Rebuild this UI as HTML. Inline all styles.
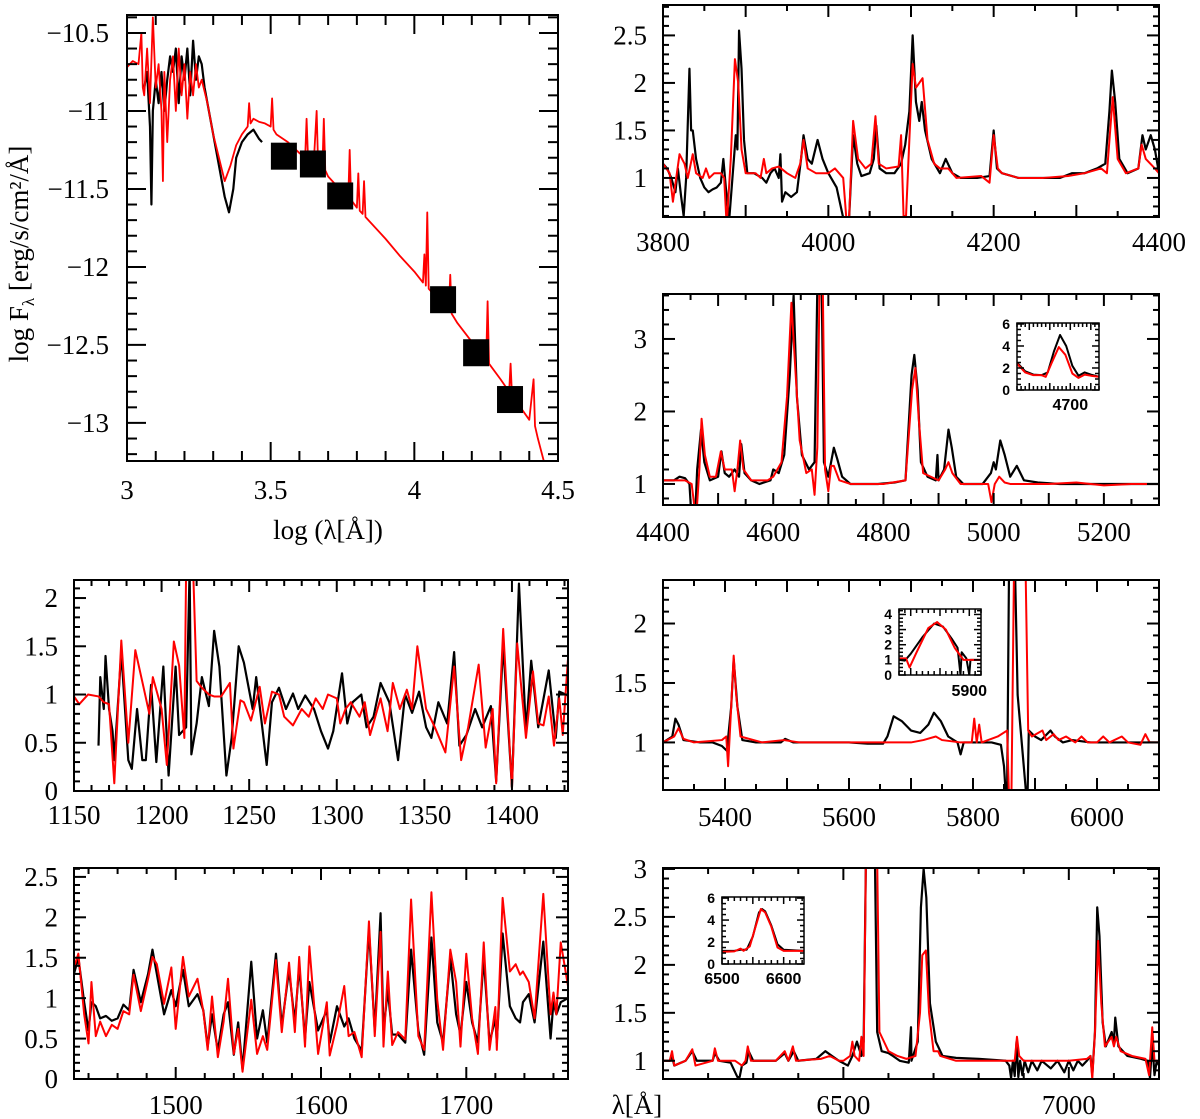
<!DOCTYPE html>
<html><head><meta charset="utf-8"><title>Spectral energy distribution and normalized spectra</title>
<style>
html,body{margin:0;padding:0;background:#fff;}
svg{display:block;}
text{font-family:"Liberation Serif","DejaVu Serif",serif;fill:#000;}
.ins{font-family:"Liberation Sans","DejaVu Sans",sans-serif;font-weight:bold;}
</style></head>
<body>
<svg id="chart" width="1200" height="1119" viewBox="0 0 1200 1119" xmlns="http://www.w3.org/2000/svg"></svg>
<script>
// ---------- DATA ----------
const sedObs = [[3.06,-10.85],[3.07,-10.75],[3.08,-11.1],[3.085,-11.6],[3.09,-11.0],[3.10,-10.8],[3.11,-10.95],[3.12,-10.75],[3.13,-11.0],[3.14,-10.8],[3.15,-10.65],[3.16,-10.75],[3.17,-10.6],[3.18,-10.95],[3.19,-10.65],[3.20,-10.8],[3.21,-10.6],[3.22,-10.9],[3.23,-10.55],[3.24,-10.8],[3.25,-10.65],[3.26,-10.7],[3.27,-10.85],[3.28,-10.95],[3.30,-11.15],[3.32,-11.35],[3.34,-11.55],[3.355,-11.65],[3.37,-11.5],[3.38,-11.3],[3.40,-11.2],[3.42,-11.15],[3.44,-11.12],[3.46,-11.18],[3.47,-11.2]];
const sedModel = [[3.0,-10.72],[3.02,-10.68],[3.04,-10.7],[3.05,-10.5],[3.055,-10.85],[3.06,-10.9],[3.07,-10.6],[3.08,-10.95],[3.09,-10.4],[3.10,-10.85],[3.11,-10.7],[3.12,-11.0],[3.125,-11.45],[3.13,-10.75],[3.14,-11.2],[3.15,-10.8],[3.16,-10.65],[3.17,-11.0],[3.18,-10.6],[3.19,-10.9],[3.20,-10.7],[3.21,-11.05],[3.22,-10.75],[3.23,-10.9],[3.24,-10.7],[3.25,-10.85],[3.26,-10.8],[3.28,-10.95],[3.30,-11.15],[3.32,-11.3],[3.34,-11.45],[3.36,-11.35],[3.38,-11.22],[3.40,-11.15],[3.42,-11.1],[3.425,-10.95],[3.43,-11.08],[3.44,-11.05],[3.46,-11.07],[3.48,-11.08],[3.50,-11.1],[3.505,-10.92],[3.51,-11.12],[3.52,-11.15],[3.56,-11.2],[3.60,-11.27],[3.62,-11.3],[3.625,-11.05],[3.63,-11.3],[3.65,-11.33],[3.66,-11.0],[3.665,-11.34],[3.68,-11.37],[3.685,-11.05],[3.69,-11.38],[3.70,-11.42],[3.75,-11.52],[3.77,-11.56],[3.775,-11.25],[3.78,-11.57],[3.80,-11.62],[3.805,-11.4],[3.81,-11.64],[3.82,-11.66],[3.825,-11.45],[3.83,-11.68],[3.85,-11.72],[3.90,-11.82],[3.95,-11.93],[4.00,-12.03],[4.03,-12.1],[4.035,-11.92],[4.04,-12.12],[4.045,-11.65],[4.05,-12.14],[4.10,-12.24],[4.12,-12.28],[4.125,-12.05],[4.13,-12.3],[4.15,-12.36],[4.20,-12.48],[4.25,-12.6],[4.255,-12.22],[4.26,-12.62],[4.30,-12.72],[4.33,-12.8],[4.335,-12.62],[4.34,-12.83],[4.35,-12.85],[4.40,-12.98],[4.415,-12.72],[4.42,-13.02],[4.43,-13.1],[4.45,-13.24]];
const sedPhotLogW = [3.546,3.647,3.742,4.10,4.215,4.333];
const sedPhotLogF = [-11.29,-11.34,-11.545,-12.21,-12.55,-12.85];

const p2Obs = [[3800,1.15],[3805,1.1],[3810,1.0],[3815,0.85],[3818,1.1],[3822,0.8],[3825,0.6],[3828,1.0],[3832,2.15],[3834,1.5],[3836,1.5],[3840,1.2],[3845,1.0],[3850,0.9],[3855,0.85],[3860,0.88],[3865,0.9],[3870,0.95],[3873,1.2],[3876,0.9],[3880,0.55],[3884,1.0],[3888,1.45],[3890,1.3],[3892,2.55],[3895,2.15],[3898,1.4],[3902,1.05],[3910,1.05],[3920,1.0],[3925,0.95],[3930,1.05],[3935,1.1],[3940,1.0],[3942,1.25],[3944,0.75],[3948,0.85],[3955,0.8],[3962,0.85],[3967,1.2],[3970,1.45],[3975,1.2],[3980,1.15],[3987,1.4],[3993,1.2],[4000,1.05],[4010,0.9],[4020,0.5],[4025,0.55],[4030,1.45],[4035,1.15],[4040,1.02],[4050,1.05],[4055,1.2],[4058,1.55],[4062,1.1],[4070,1.05],[4080,1.05],[4088,1.15],[4093,1.35],[4098,1.7],[4102,2.5],[4106,1.8],[4110,1.6],[4113,1.8],[4117,1.5],[4125,1.2],[4135,1.05],[4142,1.2],[4150,1.05],[4160,1.0],[4180,1.0],[4195,1.02],[4200,1.5],[4204,1.1],[4210,1.05],[4230,1.0],[4260,1.0],[4280,1.0],[4295,1.05],[4310,1.05],[4325,1.1],[4335,1.15],[4340,1.7],[4343,2.13],[4347,1.8],[4352,1.2],[4362,1.05],[4375,1.1],[4380,1.45],[4384,1.3],[4390,1.45],[4395,1.3],[4400,1.05]];
const p2Model = [[3800,1.15],[3808,1.05],[3812,0.75],[3816,1.0],[3820,1.25],[3826,1.15],[3830,1.0],[3836,1.25],[3840,1.05],[3848,1.0],[3852,1.1],[3856,1.0],[3862,1.05],[3870,1.05],[3874,1.0],[3877,0.5],[3882,1.2],[3887,2.25],[3891,2.0],[3895,1.3],[3900,1.05],[3912,1.05],[3918,1.0],[3922,1.2],[3925,1.05],[3932,1.1],[3940,1.12],[3950,1.05],[3960,1.0],[3966,1.15],[3970,1.4],[3975,1.1],[3985,1.05],[4000,1.05],[4008,1.1],[4018,1.0],[4022,0.55],[4025,0.55],[4030,1.6],[4036,1.2],[4045,1.1],[4052,1.15],[4057,1.65],[4061,1.15],[4070,1.1],[4085,1.12],[4088,1.45],[4091,0.6],[4094,0.6],[4098,1.4],[4102,2.2],[4106,1.95],[4110,2.0],[4114,2.05],[4120,1.4],[4128,1.15],[4135,1.1],[4145,1.1],[4155,1.0],[4185,1.02],[4195,0.95],[4200,1.45],[4205,1.1],[4210,1.05],[4230,1.0],[4260,1.0],[4290,1.02],[4310,1.05],[4330,1.1],[4337,1.05],[4344,1.85],[4350,1.2],[4360,1.05],[4375,1.1],[4379,1.35],[4384,1.2],[4395,1.1],[4400,1.05]];

const p3Obs = [[4400,1.05],[4420,1.05],[4430,1.1],[4440,1.08],[4448,1.0],[4452,0.5],[4458,0.5],[4462,1.2],[4469,1.75],[4475,1.3],[4485,1.05],[4500,1.1],[4506,1.45],[4512,1.15],[4520,1.1],[4530,1.2],[4538,1.1],[4542,1.55],[4548,1.15],[4560,1.05],[4575,1.0],[4595,1.05],[4600,1.2],[4610,1.15],[4620,1.4],[4630,2.5],[4637,3.6],[4643,2.2],[4652,1.4],[4665,1.2],[4675,1.3],[4680,3.7],[4688,3.7],[4692,1.3],[4700,1.1],[4710,1.5],[4716,1.35],[4725,1.1],[4740,1.0],[4760,1.0],[4790,1.0],[4820,1.02],[4840,1.05],[4851,2.5],[4856,2.78],[4862,2.3],[4868,1.3],[4880,1.1],[4895,1.05],[4898,1.4],[4900,1.05],[4910,1.2],[4918,1.75],[4924,1.5],[4932,1.1],[4945,1.0],[4980,1.0],[4995,1.15],[5000,1.3],[5004,1.2],[5012,1.6],[5020,1.4],[5030,1.1],[5042,1.25],[5055,1.05],[5080,1.02],[5120,1.0],[5150,1.0],[5200,1.0],[5250,1.0],[5300,1.0]];
const p3Model = [[4400,1.05],[4440,1.05],[4452,1.0],[4460,0.5],[4466,1.2],[4470,1.9],[4476,1.4],[4485,1.1],[4496,1.1],[4505,1.45],[4512,1.2],[4525,1.2],[4530,0.9],[4535,1.2],[4540,1.6],[4546,1.2],[4560,1.05],[4590,1.05],[4600,1.1],[4615,1.3],[4625,2.2],[4633,3.5],[4640,2.6],[4648,1.6],[4660,1.15],[4670,1.2],[4675,0.85],[4680,1.5],[4684,3.7],[4690,3.7],[4694,1.2],[4700,0.9],[4705,1.25],[4710,1.25],[4720,1.05],[4740,1.0],[4800,1.0],[4840,1.05],[4852,2.3],[4858,2.6],[4864,1.9],[4872,1.15],[4900,1.05],[4912,1.2],[4918,1.3],[4925,1.15],[4940,1.0],[4990,1.0],[4996,0.75],[5002,1.0],[5010,1.1],[5020,1.02],[5030,1.0],[5100,1.0],[5150,1.02],[5200,0.98],[5250,1.0],[5300,1.0]];
const i3Obs = [[4570,2.5],[4590,1.7],[4610,1.4],[4630,1.35],[4645,1.6],[4660,3.5],[4675,5.0],[4690,4.0],[4705,2.2],[4720,1.3],[4735,1.6],[4750,1.4],[4770,1.2]];
const i3Model = [[4570,2.4],[4590,1.6],[4610,1.35],[4630,1.35],[4640,1.2],[4655,2.5],[4672,3.9],[4688,3.2],[4705,1.5],[4720,1.1],[4735,1.4],[4750,1.3],[4770,1.2]];

const p4Obs = [[1164,0.47],[1165,1.18],[1167,0.85],[1168,1.4],[1170,0.85],[1172,0.62],[1173,0.32],[1177,1.44],[1181,0.32],[1183,0.23],[1186,0.85],[1189,0.32],[1191,0.32],[1194,1.1],[1197,0.3],[1201,1.29],[1204,0.16],[1208,1.29],[1210,0.58],[1214,0.66],[1216,2.3],[1217,0.38],[1220,0.7],[1223,1.18],[1227,0.88],[1230,1.66],[1233,1.29],[1237,0.16],[1240,0.55],[1244,1.5],[1247,1.33],[1252,0.85],[1254,1.18],[1257,0.73],[1260,0.27],[1263,0.92],[1267,1.07],[1271,0.85],[1275,1.01],[1278,0.85],[1282,0.99],[1287,0.85],[1291,0.62],[1295,0.44],[1298,0.62],[1303,1.22],[1306,0.7],[1309,0.92],[1314,1.0],[1317,0.66],[1321,0.77],[1325,1.12],[1330,0.92],[1335,0.32],[1339,1.0],[1343,0.81],[1347,1.03],[1351,0.66],[1354,0.55],[1358,0.92],[1363,0.7],[1367,1.44],[1370,0.47],[1374,0.58],[1379,0.85],[1383,0.66],[1388,0.88],[1391,0.1],[1395,1.52],[1400,0.04],[1404,2.15],[1408,0.62],[1411,1.35],[1415,0.66],[1421,1.25],[1425,0.55],[1427,1.03],[1432,0.99]];
const p4Model = [[1150,0.98],[1153,0.9],[1158,1.0],[1164,0.98],[1167,0.92],[1170,0.9],[1173,0.08],[1177,1.56],[1181,0.5],[1185,1.46],[1190,1.05],[1193,0.8],[1195,1.18],[1200,0.85],[1203,0.27],[1207,1.55],[1210,1.3],[1213,0.55],[1214,2.3],[1218,2.3],[1220,1.14],[1223,1.07],[1227,1.0],[1230,0.98],[1234,0.98],[1239,1.12],[1241,0.44],[1245,0.94],[1247,0.92],[1251,0.73],[1256,1.08],[1259,0.7],[1263,1.03],[1267,1.0],[1270,0.77],[1275,0.68],[1280,0.85],[1284,0.77],[1288,0.96],[1292,0.85],[1295,1.0],[1300,0.96],[1302,0.7],[1305,0.85],[1308,0.92],[1313,0.77],[1316,0.92],[1319,0.58],[1325,0.96],[1329,0.62],[1332,1.12],[1336,0.85],[1340,1.05],[1343,0.85],[1346,1.5],[1351,0.85],[1356,0.66],[1362,0.4],[1367,1.29],[1371,0.32],[1375,0.66],[1381,1.31],[1385,0.45],[1389,0.85],[1391,0.08],[1395,1.68],[1400,0.03],[1403,1.53],[1408,0.55],[1412,1.24],[1415,0.7],[1418,0.68],[1421,0.98],[1424,0.47],[1427,0.96],[1429,0.58],[1432,1.37]];

const p5Obs = [[1430,1.3],[1433,1.5],[1437,0.95],[1440,0.6],[1442,0.95],[1445,0.9],[1448,0.75],[1452,0.78],[1456,0.72],[1460,0.75],[1464,0.92],[1468,0.85],[1471,1.35],[1476,0.95],[1481,1.3],[1484,1.6],[1487,1.3],[1492,0.8],[1497,1.1],[1500,0.9],[1505,1.35],[1509,0.9],[1515,1.05],[1519,0.85],[1522,0.4],[1525,0.8],[1529,0.35],[1533,0.8],[1536,0.95],[1540,0.3],[1543,0.7],[1546,0.12],[1552,1.45],[1556,0.5],[1560,0.85],[1563,0.45],[1569,1.55],[1573,0.65],[1578,1.35],[1582,0.7],[1585,1.4],[1589,0.5],[1592,1.2],[1598,0.6],[1604,0.85],[1606,0.45],[1611,0.9],[1616,0.65],[1619,0.75],[1623,0.5],[1628,0.35],[1633,1.85],[1637,0.6],[1641,2.05],[1643,0.6],[1646,1.1],[1649,0.55],[1653,0.55],[1658,0.45],[1662,1.6],[1667,0.6],[1671,0.3],[1676,1.75],[1680,0.7],[1684,0.45],[1689,1.5],[1693,0.8],[1696,0.55],[1700,1.2],[1704,0.7],[1708,0.45],[1712,1.5],[1716,0.45],[1720,0.75],[1721,0.45],[1725,1.8],[1730,0.9],[1734,0.75],[1737,0.7],[1739,0.95],[1743,1.05],[1747,0.7],[1753,1.7],[1758,0.5],[1760,0.95],[1762,0.8],[1765,0.95],[1770,1.0]];
const p5Model = [[1430,1.38],[1433,1.55],[1437,0.8],[1440,0.44],[1442,1.2],[1445,0.53],[1448,0.71],[1452,0.53],[1456,0.67],[1460,0.62],[1464,0.84],[1468,0.8],[1471,1.29],[1476,0.84],[1481,1.24],[1484,1.51],[1487,1.42],[1492,0.93],[1497,1.38],[1500,0.62],[1505,1.51],[1509,1.02],[1515,1.24],[1519,0.84],[1522,0.36],[1525,1.02],[1529,0.27],[1533,0.71],[1536,1.24],[1540,0.31],[1543,0.62],[1546,0.09],[1552,0.98],[1556,0.31],[1560,0.53],[1563,0.36],[1569,1.47],[1573,0.58],[1578,1.44],[1582,0.58],[1585,1.51],[1589,0.4],[1592,1.64],[1598,0.31],[1604,0.95],[1606,0.29],[1611,0.67],[1616,1.15],[1619,0.53],[1623,0.58],[1628,0.27],[1633,1.95],[1637,0.53],[1641,1.82],[1643,0.4],[1646,1.33],[1649,0.42],[1653,0.58],[1658,0.49],[1662,2.22],[1667,0.53],[1671,0.36],[1676,2.31],[1680,0.98],[1684,0.36],[1689,1.6],[1693,1.2],[1696,0.4],[1700,1.55],[1704,0.75],[1708,0.31],[1712,1.69],[1716,0.36],[1720,0.89],[1721,0.36],[1725,2.24],[1730,1.33],[1734,1.42],[1737,1.29],[1739,1.33],[1743,1.2],[1747,0.75],[1753,2.29],[1758,0.8],[1760,1.07],[1762,0.8],[1765,1.69],[1770,1.15]];

const p6Obs = [[5300,1.0],[5315,1.05],[5320,1.2],[5325,1.15],[5333,1.02],[5360,1.0],[5380,1.0],[5395,0.97],[5403,0.93],[5410,1.3],[5414,1.7],[5420,1.3],[5428,1.02],[5450,1.0],[5490,1.0],[5497,1.03],[5510,1.0],[5550,1.0],[5600,1.0],[5630,0.99],[5655,0.99],[5662,1.05],[5672,1.22],[5685,1.18],[5700,1.1],[5715,1.08],[5728,1.15],[5737,1.25],[5748,1.18],[5760,1.05],[5775,1.0],[5780,0.9],[5785,1.0],[5800,1.0],[5830,1.0],[5845,0.98],[5850,0.8],[5853,0.55],[5855,0.55],[5858,2.4],[5868,2.4],[5872,1.4],[5886,0.55],[5888,0.55],[5890,1.1],[5900,1.05],[5910,1.02],[5925,1.1],[5932,1.05],[5945,1.0],[5960,1.02],[5990,1.0],[6030,1.0],[6060,1.0],[6100,1.0]];
const p6Model = [[5300,1.0],[5318,1.05],[5325,1.12],[5333,1.03],[5350,1.0],[5395,1.02],[5402,1.05],[5405,0.8],[5410,1.3],[5414,1.73],[5418,1.4],[5425,1.05],[5460,1.0],[5495,1.02],[5520,1.0],[5650,1.0],[5700,1.0],[5720,1.02],[5740,1.05],[5750,1.02],[5780,1.0],[5798,1.0],[5802,1.2],[5806,1.0],[5810,1.15],[5814,1.0],[5840,1.05],[5855,1.1],[5858,0.55],[5862,0.55],[5866,2.4],[5885,2.4],[5889,1.1],[5895,1.05],[5912,1.1],[5918,1.02],[5930,1.07],[5938,1.02],[5950,1.05],[5965,1.0],[5975,1.05],[5985,1.0],[6000,1.0],[6010,1.05],[6020,1.0],[6040,1.05],[6050,1.0],[6070,0.98],[6078,1.07],[6085,1.0],[6100,1.0]];
const i6Obs = [[5780,1.0],[5790,0.95],[5800,1.4],[5820,2.5],[5840,3.4],[5855,3.2],[5870,2.4],[5880,1.8],[5885,0.0],[5887,1.5],[5895,1.1],[5900,0.0],[5902,1.0],[5920,1.0]];
const i6Model = [[5780,1.1],[5792,1.1],[5798,0.5],[5810,1.5],[5830,3.1],[5845,3.5],[5860,3.0],[5875,1.8],[5890,1.0],[5920,1.0]];

const p7Obs = [[6100,1.0],[6115,1.0],[6120,1.05],[6125,0.95],[6150,1.0],[6165,1.1],[6175,1.0],[6210,1.0],[6215,1.08],[6225,1.0],[6250,0.98],[6265,0.83],[6270,0.83],[6275,0.95],[6285,0.98],[6290,1.1],[6300,1.0],[6350,1.0],[6370,1.08],[6378,1.0],[6390,1.1],[6400,1.0],[6440,1.02],[6460,1.1],[6475,1.05],[6490,1.0],[6510,0.95],[6520,1.05],[6530,1.2],[6540,1.05],[6545,1.2],[6550,3.1],[6570,3.1],[6575,1.3],[6585,1.1],[6600,1.08],[6610,1.05],[6625,1.0],[6645,0.98],[6650,1.35],[6651,1.0],[6665,1.2],[6672,2.6],[6678,3.0],[6684,2.7],[6692,1.6],[6705,1.2],[6720,1.05],[6750,1.03],[6800,1.02],[6860,1.0],[6868,0.95],[6872,0.82],[6876,1.0],[6880,0.84],[6884,1.2],[6888,0.83],[6892,1.0],[6897,0.85],[6902,1.0],[6910,0.88],[6918,1.0],[6930,0.9],[6940,1.0],[6960,0.92],[6975,1.0],[6990,0.88],[7000,1.0],[7010,0.9],[7020,1.0],[7030,0.95],[7040,1.0],[7048,1.05],[7052,0.85],[7058,1.3],[7063,2.6],[7068,2.3],[7075,1.4],[7082,1.15],[7095,1.3],[7100,1.2],[7103,1.45],[7110,1.15],[7130,1.05],[7160,1.02],[7175,1.0],[7180,0.82],[7185,1.2],[7190,0.85],[7195,1.0],[7200,0.95]];
const p7Model = [[6100,1.0],[6115,1.0],[6120,1.1],[6125,0.95],[6150,1.0],[6165,1.12],[6172,0.95],[6210,1.0],[6215,1.13],[6222,1.0],[6260,1.0],[6275,0.95],[6283,1.0],[6288,1.15],[6295,1.0],[6350,1.0],[6370,1.1],[6378,1.0],[6388,1.15],[6395,1.0],[6450,1.02],[6470,1.05],[6490,1.0],[6500,1.0],[6515,1.05],[6520,1.2],[6525,1.05],[6535,1.0],[6540,1.25],[6545,1.05],[6550,3.1],[6575,3.1],[6580,1.3],[6600,1.1],[6620,1.05],[6640,1.02],[6660,1.05],[6670,1.5],[6675,2.1],[6683,2.15],[6690,1.5],[6700,1.1],[6710,1.1],[6715,1.05],[6750,1.0],[6800,1.0],[6860,1.0],[6880,1.0],[6885,1.25],[6890,1.05],[6900,1.0],[6950,1.0],[7000,1.0],[7040,1.02],[7048,1.05],[7052,0.81],[7058,1.3],[7065,2.25],[7072,1.6],[7080,1.15],[7095,1.25],[7100,1.15],[7105,1.25],[7115,1.1],[7140,1.05],[7170,1.02],[7178,0.85],[7185,1.35],[7190,1.0],[7200,1.0]];
const i7Obs = [[6500,1.2],[6520,1.2],[6530,1.3],[6540,1.3],[6550,2.5],[6560,4.7],[6565,5.0],[6570,4.8],[6580,3.5],[6590,1.8],[6600,1.3],[6633,1.2]];
const i7Model = [[6500,1.1],[6520,1.15],[6530,1.4],[6535,1.2],[6545,1.6],[6555,3.5],[6563,5.0],[6570,4.7],[6580,3.4],[6590,1.5],[6600,1.2],[6633,1.2]];

const p1XTicks = [3,3.5,4,4.5];
const p1YTicks = [-10.5,-11,-11.5,-12,-12.5,-13];
const p2XTicks = [3800,4000,4200,4400];
const p2YTicks = [1,1.5,2,2.5];
const p3XTicks = [4400,4600,4800,5000,5200];
const p3YTicks = [1,2,3];
const p4XTicks = [1150,1200,1250,1300,1350,1400];
const p4YTicks = [0,0.5,1,1.5,2];
const p5XTicks = [1500,1600,1700];
const p5YTicks = [0,0.5,1,1.5,2,2.5];
const p6XTicks = [5400,5600,5800,6000];
const p6YTicks = [1,1.5,2];
const p7XTicks = [6500,7000];
const p7YTicks = [1,1.5,2,2.5,3];
const i3XTicks = [4700]; const i3YTicks = [0,2,4,6];
const i6XTicks = [5900]; const i6YTicks = [0,1,2,3,4];
const i7XTicks = [6500,6600]; const i7YTicks = [0,2,4,6];

// ---------- DRAWING ----------
const NS = 'http://www.w3.org/2000/svg';
const svg = document.getElementById('chart');
let clipId = 0;
function mk(tag, attrs, parent) {
  const e = document.createElementNS(NS, tag);
  for (const k in attrs) e.setAttribute(k, attrs[k]);
  (parent || svg).appendChild(e);
  return e;
}
function fmt(v) { return (v < 0 ? '\u2212' + String(-v) : String(v)); }

function panel(o) {
  const g = mk('g', {});
  
  
  const sx = v => o.x0 + (v - o.xmin) / (o.xmax - o.xmin) * (o.x1 - o.x0);
  const sy = v => o.y1 - (v - o.ymin) / (o.ymax - o.ymin) * (o.y1 - o.y0);
  const bg = mk('rect', {x:o.x0, y:o.y0, width:o.x1-o.x0, height:o.y1-o.y0, fill:'#fff'}, g);
  
  
  const cid = 'clip' + (clipId++);
  const cp = mk('clipPath', {id: cid}, g);
  mk('rect', {x:o.x0, y:o.y0, width:o.x1-o.x0, height:o.y1-o.y0}, cp);
  const dg = mk('g', {'clip-path': 'url(#' + cid + ')'}, g);
  (o.series || []).forEach(s => {
    const d = s.data.map((p, i) => (i ? 'L' : 'M') + sx(p[0]).toFixed(2) + ' ' + sy(p[1]).toFixed(2)).join('');
    const path = mk('path', {d:d, fill:'none', stroke:s.color, 'stroke-width':s.w || 2, 'stroke-linejoin':'round'}, dg);
    
    
  });
  if (o.squares) {
    o.squares.x.forEach((v, i) => {
      const r = mk('rect', {x:sx(v)-13, y:sy(o.squares.y[i])-13.5, width:26, height:27, fill:'#000'}, dg);
      
      
    });
  }
  // ticks
  const tg = mk('g', {stroke:'#000', 'stroke-width': o.tw || 2}, g);
  
  
  const isMaj = (v, m) => Math.abs(v / m - Math.round(v / m)) < 1e-6;
  let start = Math.ceil(o.xmin / o.xMinor - 1e-9);
  for (let k = start; k * o.xMinor <= o.xmax + 1e-9; k++) {
    const v = k * o.xMinor, X = sx(v), L = isMaj(v, o.xMajor) ? o.maj : o.min;
    mk('line', {x1:X, y1:o.y1, x2:X, y2:o.y1 - L}, tg);
    mk('line', {x1:X, y1:o.y0, x2:X, y2:o.y0 + L}, tg);
  }
  start = Math.ceil(o.ymin / o.yMinor - 1e-9);
  for (let k = start; k * o.yMinor <= o.ymax + 1e-9; k++) {
    const v = k * o.yMinor, Y = sy(v), L = isMaj(v, o.yMajor) ? o.maj : o.min;
    mk('line', {x1:o.x0, y1:Y, x2:o.x0 + L, y2:Y}, tg);
    mk('line', {x1:o.x1, y1:Y, x2:o.x1 - L, y2:Y}, tg);
  }
  const fr = mk('rect', {x:o.x0, y:o.y0, width:o.x1-o.x0, height:o.y1-o.y0, fill:'none', stroke:'#000', 'stroke-width': o.tw || 2}, g);
  
  
  const cls = o.inset ? 'ins' : '';
  o.xTicks.forEach(v => {
    const t = mk('text', {x:sx(v), y:o.xLabY, 'text-anchor':'middle', 'font-size':o.xfs, class:cls}, g);
    t.textContent = fmt(v);
    
    
  });
  o.yTicks.forEach(v => {
    const t = mk('text', {x:o.x0 - o.yLabGap, y:sy(v) + o.yfs * 0.34, 'text-anchor':'end', 'font-size':o.yfs, class:cls}, g);
    t.textContent = fmt(v);
    
    
  });
  return g;
}

const BLK = '#000', RED = '#ff0000';
const big = {maj:12, min:6, xfs:27, yfs:27, yLabGap:16};

panel(Object.assign({}, big, {name:'sed-panel', x0:127, x1:558, y0:15, y1:461, xmin:3, xmax:4.5, ymin:-13.244, ymax:-10.385,
  xMinor:0.1, xMajor:0.5, yMinor:0.1, yMajor:0.5, maj:19, min:10, xLabY:499, yLabGap:18,
  xTicks:p1XTicks, yTicks:p1YTicks,
  series:[{data:sedObs, color:BLK, w:2.2, name:'sed-observed-line'},{data:sedModel, color:RED, w:1.8, name:'sed-model-line'}],
  squares:{x:sedPhotLogW, y:sedPhotLogF}}));

panel(Object.assign({}, big, {name:'panel-3800-4400', x0:663, x1:1159, y0:5, y1:217, xmin:3800, xmax:4400, ymin:0.589, ymax:2.82,
  xMinor:50, xMajor:100, yMinor:0.1, yMajor:0.5, xLabY:251, xTicks:p2XTicks, yTicks:p2YTicks,
  series:[{data:p2Obs, color:BLK, w:2.2, name:'observed-spectrum'},{data:p2Model, color:RED, w:2, name:'model-spectrum'}]}));

panel(Object.assign({}, big, {name:'panel-4400-5300', x0:663, x1:1159, y0:294, y1:505, xmin:4400, xmax:5300, ymin:0.71, ymax:3.62,
  xMinor:50, xMajor:100, yMinor:0.2, yMajor:1, xLabY:541, xTicks:p3XTicks, yTicks:p3YTicks,
  series:[{data:p3Obs, color:BLK, w:2.2, name:'observed-spectrum'},{data:p3Model, color:RED, w:2, name:'model-spectrum'}]}));

panel({name:'inset-4700', inset:true, x0:1017, x1:1099, y0:323, y1:390, xmin:4570, xmax:4770, ymin:0, ymax:6.09,
  xMinor:10, xMajor:50, yMinor:0.5, yMajor:2, maj:7, min:4, tw:1.5, xfs:16, yfs:14, yLabGap:7, xLabY:410,
  xTicks:i3XTicks, yTicks:i3YTicks,
  series:[{data:i3Obs, color:BLK, w:2, name:'inset-observed'},{data:i3Model, color:RED, w:2, name:'inset-model'}]});

panel(Object.assign({}, big, {name:'panel-1150-1430', x0:74, x1:568, y0:580, y1:791, xmin:1150, xmax:1432, ymin:0, ymax:2.187,
  xMinor:10, xMajor:50, yMinor:0.1, yMajor:0.5, xLabY:824, xTicks:p4XTicks, yTicks:p4YTicks,
  series:[{data:p4Obs, color:BLK, w:2.2, name:'observed-spectrum'},{data:p4Model, color:RED, w:2, name:'model-spectrum'}]}));

panel(Object.assign({}, big, {name:'panel-1430-1770', x0:74, x1:568, y0:868, y1:1079, xmin:1430, xmax:1770, ymin:0, ymax:2.61,
  xMinor:20, xMajor:100, yMinor:0.1, yMajor:0.5, xLabY:1114, xTicks:p5XTicks, yTicks:p5YTicks,
  series:[{data:p5Obs, color:BLK, w:2.2, name:'observed-spectrum'},{data:p5Model, color:RED, w:2, name:'model-spectrum'}]}));

panel(Object.assign({}, big, {name:'panel-5300-6100', x0:663, x1:1159, y0:580, y1:790, xmin:5300, xmax:6100, ymin:0.60, ymax:2.366,
  xMinor:50, xMajor:100, yMinor:0.1, yMajor:0.5, xLabY:826, xTicks:p6XTicks, yTicks:p6YTicks,
  series:[{data:p6Obs, color:BLK, w:2.2, name:'observed-spectrum'},{data:p6Model, color:RED, w:2, name:'model-spectrum'}]}));

panel({name:'inset-5900', inset:true, x0:899, x1:981, y0:609, y1:675, xmin:5780, xmax:5920, ymin:0, ymax:4.36,
  xMinor:10, xMajor:50, yMinor:0.25, yMajor:1, maj:7, min:4, tw:1.5, xfs:16, yfs:14, yLabGap:7, xLabY:696,
  xTicks:i6XTicks, yTicks:i6YTicks,
  series:[{data:i6Obs, color:BLK, w:2, name:'inset-observed'},{data:i6Model, color:RED, w:2, name:'inset-model'}]});

panel(Object.assign({}, big, {name:'panel-6100-7200', x0:663, x1:1159, y0:868, y1:1079, xmin:6100, xmax:7200, ymin:0.81, ymax:3.01,
  xMinor:100, xMajor:500, yMinor:0.1, yMajor:0.5, xLabY:1114, xTicks:p7XTicks, yTicks:p7YTicks,
  series:[{data:p7Obs, color:BLK, w:2.2, name:'observed-spectrum'},{data:p7Model, color:RED, w:2, name:'model-spectrum'}]}));

panel({name:'inset-6563', inset:true, x0:722, x1:804, y0:897, y1:964, xmin:6500, xmax:6633, ymin:0, ymax:6.1,
  xMinor:10, xMajor:50, yMinor:0.5, yMajor:2, maj:7, min:4, tw:1.5, xfs:16, yfs:14, yLabGap:7, xLabY:984,
  xTicks:i7XTicks, yTicks:i7YTicks,
  series:[{data:i7Obs, color:BLK, w:2, name:'inset-observed'},{data:i7Model, color:RED, w:2, name:'inset-model'}]});

// axis titles
const xt = mk('text', {x:328, y:539, 'text-anchor':'middle', 'font-size':27});
xt.textContent = 'log (\u03bb[\u00c5])';



const yt = mk('text', {x:0, y:0, 'text-anchor':'middle', 'font-size':27, transform:'translate(28,254) rotate(-90)'});


const t1 = mk('tspan', {}, yt); t1.textContent = 'log F';
const t2 = mk('tspan', {'font-size':17, dy:6}, yt); t2.textContent = '\u03bb';
const t3 = mk('tspan', {dy:-6}, yt); t3.textContent = ' [erg/s/cm\u00b2/\u00c5]';

const lt = mk('text', {x:637, y:1114, 'text-anchor':'middle', 'font-size':27});
lt.textContent = '\u03bb[\u00c5]';


</script>
</body></html>
